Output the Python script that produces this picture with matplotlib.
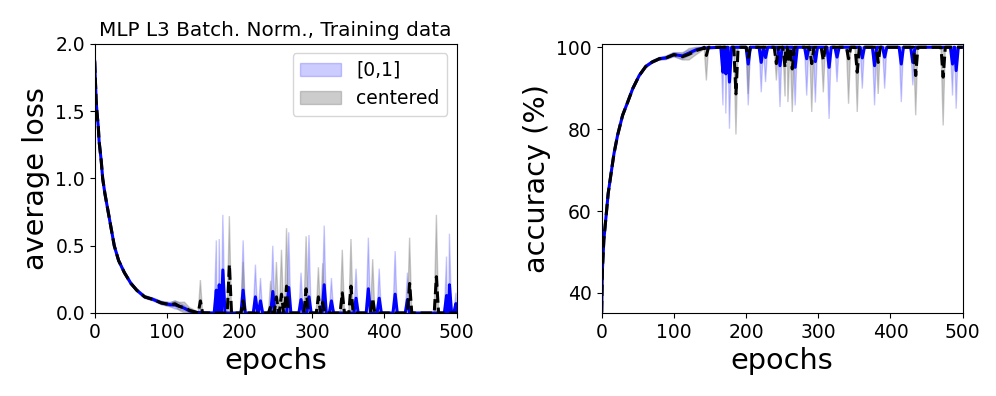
import matplotlib
matplotlib.use("Agg")
import matplotlib.pyplot as plt
import numpy as np

# ---- loss, first 140 epochs (both inputs almost the same)
loss_start_ep = [0, 1, 2, 3, 5, 6, 9, 11, 14, 19, 23, 27, 33, 41, 50, 58, 69, 81, 92, 104, 111, 117, 124, 131, 136, 140]
loss01_start = [1.87, 1.72, 1.58, 1.50, 1.38, 1.28, 1.13, 1.00, 0.89, 0.74, 0.62, 0.50, 0.39, 0.30, 0.22, 0.17,
                0.12, 0.10, 0.075, 0.062, 0.060, 0.050, 0.035, 0.015, 0.008, 0.004]
lossc_start = [1.87, 1.72, 1.58, 1.50, 1.38, 1.28, 1.13, 1.00, 0.89, 0.74, 0.62, 0.50, 0.39, 0.30, 0.22, 0.17,
               0.12, 0.10, 0.075, 0.062, 0.069, 0.049, 0.040, 0.020, 0.012, 0.006]
loss01_spread = [0.01, 0.01, 0.01, 0.01, 0.01, 0.01, 0.01, 0.01, 0.01, 0.01, 0.01, 0.01, 0.01, 0.01, 0.01, 0.01,
                 0.01, 0.01, 0.012, 0.015, 0.03, 0.025, 0.02, 0.015, 0.01, 0.008]
lossc_spread = [0.01, 0.01, 0.01, 0.01, 0.01, 0.01, 0.01, 0.01, 0.01, 0.01, 0.01, 0.01, 0.01, 0.01, 0.01, 0.01,
                0.01, 0.01, 0.012, 0.015, 0.02, 0.03, 0.04, 0.02, 0.015, 0.008]

# ---- loss spikes after epoch 140: epoch, mean, top of band
loss01_peak_ep = [168, 172, 177, 205, 222, 229, 246, 268, 285, 296, 317, 327, 361, 378, 393, 415, 432, 486, 490, 499]
loss01_peak = [0.17, 0.21, 0.32, 0.17, 0.12, 0.09, 0.16, 0.19, 0.10, 0.12, 0.21, 0.09, 0.11, 0.18, 0.11, 0.14, 0.10,
               0.13, 0.21, 0.07]
loss01_peak_top = [0.54, 0.55, 0.73, 0.54, 0.36, 0.26, 0.50, 0.60, 0.30, 0.58, 0.65, 0.26, 0.33, 0.56, 0.33, 0.46,
                   0.30, 0.42, 0.59, 0.15]
lossc_peak_ep = [146, 186, 205, 243, 251, 258, 265, 292, 309, 315, 342, 354, 384, 435, 472]
lossc_peak = [0.09, 0.36, 0.09, 0.05, 0.12, 0.14, 0.20, 0.18, 0.12, 0.08, 0.15, 0.20, 0.11, 0.22, 0.27]
lossc_peak_top = [0.245, 0.72, 0.38, 0.24, 0.38, 0.47, 0.63, 0.57, 0.34, 0.37, 0.47, 0.55, 0.40, 0.56, 0.73]

# ---- accuracy, first 140 epochs
acc_start_ep = [0, 1, 3, 6, 9, 13, 17, 22, 29, 36, 43, 52, 61, 70, 80, 89, 100, 112, 121, 131, 140]
acc01_start = [35.3, 45.7, 53.0, 58.6, 64.3, 69.2, 74.0, 78.5, 83.4, 86.6, 89.9, 93.1, 95.3, 96.4, 97.2, 97.4,
               98.2, 97.9, 98.6, 99.4, 99.8]
accc_start = [35.3, 45.7, 53.0, 58.6, 64.3, 69.2, 74.0, 78.5, 83.4, 86.6, 89.9, 93.1, 95.3, 96.4, 97.2, 97.4,
              98.2, 97.7, 98.3, 99.2, 99.7]
acc01_spread = [0.2, 0.2, 0.2, 0.2, 0.2, 0.2, 0.2, 0.2, 0.2, 0.3, 0.3, 0.3, 0.3, 0.3, 0.3, 0.4,
                0.5, 0.8, 0.7, 0.5, 0.3]
accc_spread = [0.2, 0.2, 0.2, 0.2, 0.2, 0.2, 0.2, 0.2, 0.2, 0.3, 0.3, 0.3, 0.3, 0.3, 0.3, 0.4,
               0.5, 0.8, 1.4, 1.0, 0.4]

# ---- accuracy dips after epoch 140: epoch, mean, bottom of band
acc01_dip_ep = [168, 172, 177, 203, 221, 227, 247, 268, 284, 296, 315, 326, 361, 378, 392, 415, 431, 486, 491]
acc01_dip = [93.9, 93.5, 91.5, 95.9, 96.3, 97.5, 95.5, 95.1, 97.2, 96.5, 95.1, 97.6, 97.4, 95.5, 97.6, 95.9, 96.3,
             95.9, 94.3]
acc01_dip_low = [85.8, 83.8, 80.1, 85.8, 89.0, 91.5, 85.4, 85.8, 88.2, 86.5, 82.5, 91.5, 89.9, 85.8, 89.9, 86.6,
                 90.7, 88.2, 85.0]
accc_dip_ep = [145, 186, 203, 242, 254, 258, 264, 291, 307, 342, 354, 383, 435, 473]
accc_dip = [98.0, 88.6, 97.5, 96.0, 95.1, 96.5, 94.7, 96.0, 96.8, 97.2, 93.9, 96.3, 93.1, 92.7]
accc_dip_low = [91.9, 78.7, 88.6, 91.9, 88.0, 86.6, 84.2, 84.2, 89.0, 86.2, 84.2, 88.6, 83.4, 80.9]


def with_peaks(ep0, y0, peak_ep, peak_y, base, end=500, half=3):
    ep = list(ep0)
    y = list(y0)
    for e, v in zip(peak_ep, peak_y):
        ep += [e - half, e, e + half]
        y += [base, v, base]
    ep.append(end)
    y.append(base)
    order = np.argsort(ep, kind="stable")
    return np.array(ep, dtype=float)[order], np.array(y, dtype=float)[order]


def band(ax, x_up, y_up, x_lo, y_lo, **kw):
    xs = np.r_[x_up, x_lo[::-1]]
    ys = np.r_[y_up, y_lo[::-1]]
    return ax.fill(xs, ys, **kw)[0]


fig = plt.figure(figsize=(9.96, 3.96), dpi=100)
ax1 = fig.add_axes([0.0951, 0.2096, 0.3634, 0.6793])
ax2 = fig.add_axes([0.6041, 0.2096, 0.3624, 0.6793])

blue_kw = dict(color="blue", alpha=0.2, lw=1)
gray_kw = dict(color="gray", alpha=0.4, lw=1)

# loss panel
s01 = np.array(loss01_start)
sc = np.array(lossc_start)
x, y = with_peaks(loss_start_ep, s01 + np.array(loss01_spread), loss01_peak_ep, loss01_peak_top, 0)
xl, yl = with_peaks(loss_start_ep, np.clip(s01 - np.array(loss01_spread), 0, None), [], [], 0)
h1 = band(ax1, x, y, xl, yl, label="[0,1]", **blue_kw)
x, y = with_peaks(loss_start_ep, sc + np.array(lossc_spread), lossc_peak_ep, lossc_peak_top, 0)
xl, yl = with_peaks(loss_start_ep, np.clip(sc - np.array(lossc_spread), 0, None), [], [], 0)
h2 = band(ax1, x, y, xl, yl, label="centered", **gray_kw)
x, y = with_peaks(loss_start_ep, loss01_start, loss01_peak_ep, loss01_peak, 0)
ax1.plot(x, y, color="blue", lw=2.2)
x, y = with_peaks(loss_start_ep, lossc_start, lossc_peak_ep, lossc_peak, 0)
ax1.plot(x, y, color="black", lw=2.2, ls="--")
ax1.set_xlim(0, 500)
ax1.set_ylim(0, 2)
ax1.set_yticks([0, 0.5, 1.0, 1.5, 2.0])
ax1.set_xlabel("epochs", fontsize=20.7)
ax1.set_ylabel("average loss", fontsize=20.7)
ax1.set_title("MLP L3 Batch. Norm., Training data", fontsize=14.4)
ax1.legend(handles=[h1, h2], loc="upper right", fontsize=13.5, handlelength=2.2)

# accuracy panel
a01 = np.array(acc01_start)
ac = np.array(accc_start)
x, y = with_peaks(acc_start_ep, np.clip(a01 + np.array(acc01_spread), None, 100), [], [], 100)
xl, yl = with_peaks(acc_start_ep, a01 - np.array(acc01_spread), acc01_dip_ep, acc01_dip_low, 100)
band(ax2, x, y, xl, yl, **blue_kw)
x, y = with_peaks(acc_start_ep, np.clip(ac + np.array(accc_spread), None, 100), [], [], 100)
xl, yl = with_peaks(acc_start_ep, ac - np.array(accc_spread), accc_dip_ep, accc_dip_low, 100)
band(ax2, x, y, xl, yl, **gray_kw)
x, y = with_peaks(acc_start_ep, acc01_start, acc01_dip_ep, acc01_dip, 100)
ax2.plot(x, y, color="blue", lw=2.2)
x, y = with_peaks(acc_start_ep, accc_start, accc_dip_ep, accc_dip, 100)
ax2.plot(x, y, color="black", lw=2.2, ls="--")
ax2.set_xlim(0, 500)
ax2.set_ylim(35.1, 100.8)
ax2.set_yticks([40, 60, 80, 100])
ax2.set_xlabel("epochs", fontsize=20.7)
ax2.set_ylabel("accuracy (%)", fontsize=20.7)

for ax in (ax1, ax2):
    ax.tick_params(labelsize=13.5)

fig.savefig("out.png", dpi=100)
